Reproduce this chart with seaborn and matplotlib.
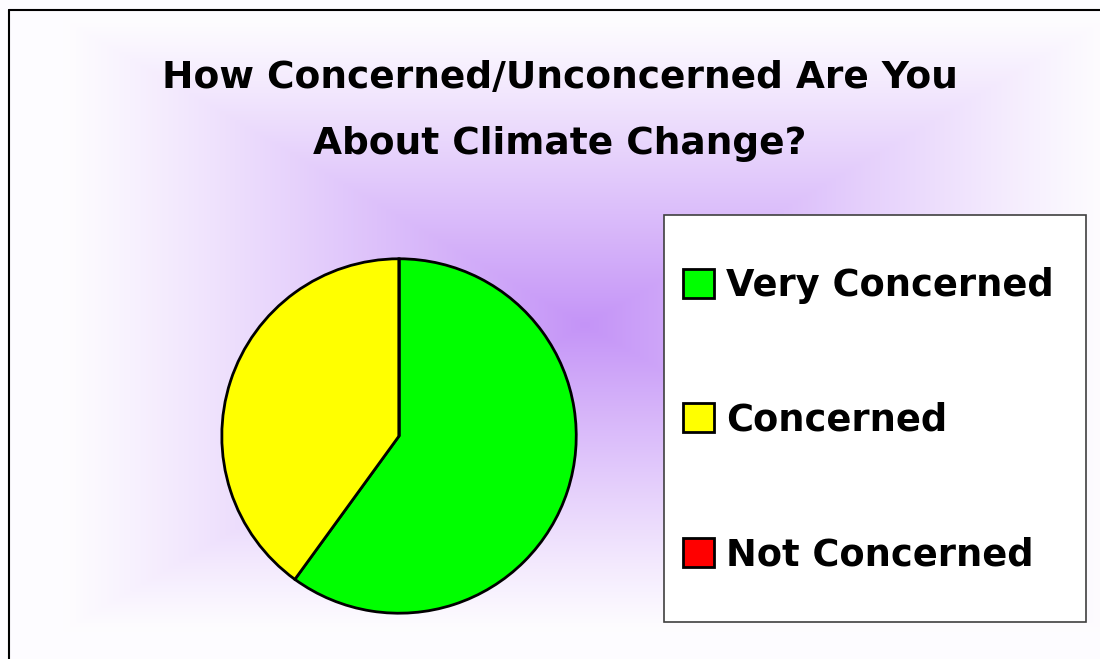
import numpy as np
import matplotlib
matplotlib.use("Agg")
import matplotlib.pyplot as plt
import seaborn as sns
from matplotlib.patches import Rectangle
from matplotlib.lines import Line2D

# data
labels = ["Very Concerned", "Concerned", "Not Concerned"]
shares = [60, 40, 0]
colors = ["#00FF00", "#FFFF00", "#FF0000"]
title = "How Concerned/Unconcerned Are You\nAbout Climate Change?"

sns.set_theme(style="white")
plt.rcParams["font.family"] = ["DejaVu Sans"]
plt.rcParams["text.color"] = "black"

fig = plt.figure(figsize=(11, 6.59), dpi=100)
fig.patch.set_facecolor("white")

# background: rectangular purple gradient, white at edges
bg = fig.add_axes([0, 0, 1, 1], zorder=0)
xs = np.linspace(0, 1100, 550)
ys = np.linspace(0, 659, 330)
gx, gy = np.meshgrid(xs, ys)
d = np.maximum(np.abs(gx - 585) / 520, np.abs(gy - 325) / 305)
d = np.clip(d, 0, 1)
t = (1 - d) ** 1.1
c0 = np.array([0.995, 0.99, 1.0])
c1 = np.array([0.77, 0.58, 0.97])
img = c0 + (c1 - c0) * t[..., None]
bg.imshow(img, extent=[0, 1100, 659, 0], aspect="auto", interpolation="bicubic")
bg.set_xlim(0, 1100)
bg.set_ylim(659, 0)
bg.axis("off")

# slide border (top and left)
fig.add_artist(Line2D([9 / 1100, 1], [1 - 9.5 / 659, 1 - 9.5 / 659], color="black", lw=1.5,
                      transform=fig.transFigure))
fig.add_artist(Line2D([9 / 1100, 9 / 1100], [0, 1 - 9.5 / 659], color="black", lw=1.5,
                      transform=fig.transFigure))

# title
fig.text(560 / 1100, 1 - 111 / 659, title, ha="center", va="center", fontsize=27,
         fontweight="bold", linespacing=2.05, color="black")

# pie
ax = fig.add_axes([0.2, 0.0668, 0.3255, 0.5432], zorder=2)
wedges, _ = ax.pie(shares, colors=colors, startangle=90, counterclock=False,
                   wedgeprops=dict(edgecolor="black", linewidth=2))
ax.set_aspect("equal")
ax.set_xlim(-1.01, 1.01)
ax.set_ylim(-1.01, 1.01)

# legend box
fig.add_artist(Rectangle((664 / 1100, 1 - 622 / 659), 422 / 1100, 407 / 659,
                         transform=fig.transFigure, facecolor="white",
                         edgecolor="#404040", lw=1.2, zorder=3))
leg = fig.legend(wedges, labels, loc="center left",
                 bbox_to_anchor=(665 / 1100, 1 - 420 / 659),
                 frameon=False, fontsize=26.5, handlelength=0.82, handleheight=0.82,
                 handletextpad=0.35, labelspacing=2.65, borderpad=0)
leg.set_zorder(4)
for txt in leg.get_texts():
    txt.set_fontweight("bold")
    txt.set_color("black")

fig.savefig("out.png", dpi=100)
